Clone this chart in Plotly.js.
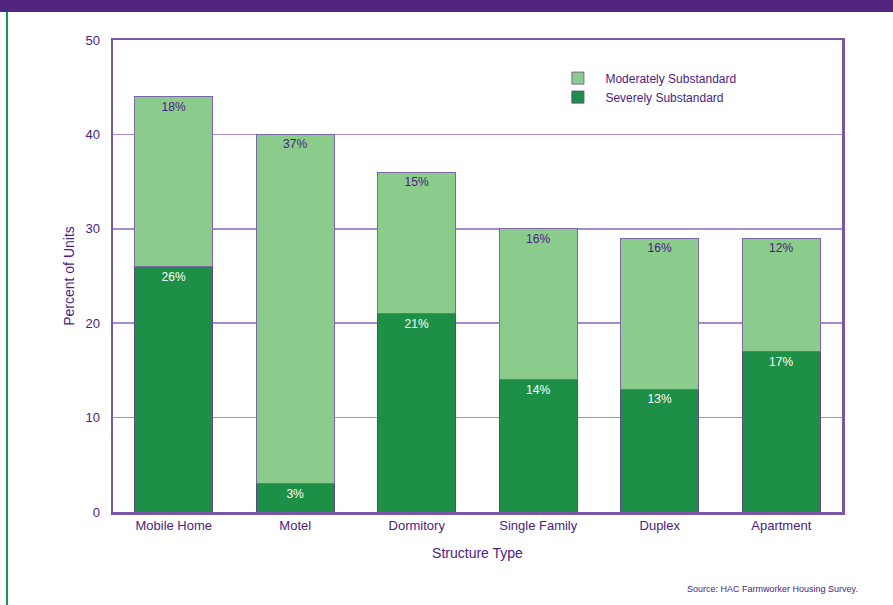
<!DOCTYPE html>
<html>
<head>
<meta charset="utf-8">
<script src="https://cdn.plot.ly/plotly-3.0.1.min.js"></script>
<style>html,body{margin:0;padding:0;background:#fff;}#chart{width:893px;height:605px;}</style>
</head>
<body>
<div id="chart"></div>
<script>
var categories = ["Mobile Home", "Motel", "Dormitory", "Single Family", "Duplex", "Apartment"];
var severe = [26, 3, 21, 14, 13, 17];
var moderate = [18, 37, 15, 16, 16, 12];
var yTicks = [0, 10, 20, 30, 40, 50];

var purple = "#52267f";
var textPurple = "#4a2283";
var gridPurple = "#a68ccc";
var font = "Liberation Sans, Arial, sans-serif";

var traces = [
  {
    type: "bar", name: "Severely Substandard", x: categories, y: severe,
    marker: {color: "#1d8f47", line: {color: "#5a4a8a", width: 1}},
    text: severe.map(function(v){return v + "%";}),
    textposition: "inside", insidetextanchor: "end", textangle: 0,
    textfont: {color: "#ffffff", size: 12, family: font},
    hoverinfo: "skip"
  },
  {
    type: "bar", name: "Moderately Substandard", x: categories, y: moderate,
    marker: {color: "#8bcb8b", line: {color: "#7a66a8", width: 1}},
    text: moderate.map(function(v){return v + "%";}),
    textposition: "inside", insidetextanchor: "end", textangle: 0,
    textfont: {color: textPurple, size: 12, family: font},
    hoverinfo: "skip"
  }
];

var layout = {
  width: 893, height: 605,
  margin: {l: 113, r: 51, t: 40, b: 93},
  paper_bgcolor: "#ffffff", plot_bgcolor: "#ffffff",
  barmode: "stack", bargap: 0.36,
  font: {family: font, color: textPurple, size: 13},
  showlegend: true,
  legend: {
    x: 0.6, y: 0.95, xanchor: "left", yanchor: "top",
    traceorder: "reversed", bgcolor: "rgba(0,0,0,0)",
    font: {size: 12, color: textPurple, family: font},
    itemwidth: 45, tracegroupgap: 4
  },
  xaxis: {
    type: "category", showgrid: false, showline: true, mirror: true,
    linecolor: "#7a56a8", linewidth: 2.5, ticks: "", zeroline: false,
    tickfont: {size: 13, color: textPurple, family: font},
    title: {text: "Structure Type", font: {size: 14, color: textPurple, family: font}, standoff: 16}
  },
  yaxis: {
    range: [0, 50], tickvals: yTicks, ticktext: yTicks.map(String),
    showgrid: true, gridcolor: gridPurple, gridwidth: 1.5,
    showline: true, mirror: true, linecolor: "#7a56a8", linewidth: 2.5,
    ticks: "", zeroline: false, ticklabelstandoff: 8,
    tickfont: {size: 13, color: textPurple, family: font},
    title: {text: "Percent of Units", font: {size: 14, color: textPurple, family: font}, standoff: 8}
  },
  shapes: [
    {type: "rect", xref: "paper", yref: "paper", x0: -0.16, x1: 1.08, y0: 1.0593, y1: 1.09,
     fillcolor: purple, line: {width: 0}, layer: "above"},
    {type: "line", xref: "paper", yref: "paper", x0: -0.1454, x1: -0.1454, y0: 1.0593, y1: -0.2,
     line: {color: "#0f9a52", width: 2}}
  ],
  annotations: [
    {text: "Source: HAC Farmworker Housing Survey.", xref: "paper", yref: "paper",
     x: 1.025, y: -0.163, xanchor: "right", yanchor: "middle", showarrow: false,
     font: {size: 9, color: textPurple, family: font}}
  ]
};

Plotly.newPlot("chart", traces, layout, {displayModeBar: false, staticPlot: true});
</script>
</body>
</html>
